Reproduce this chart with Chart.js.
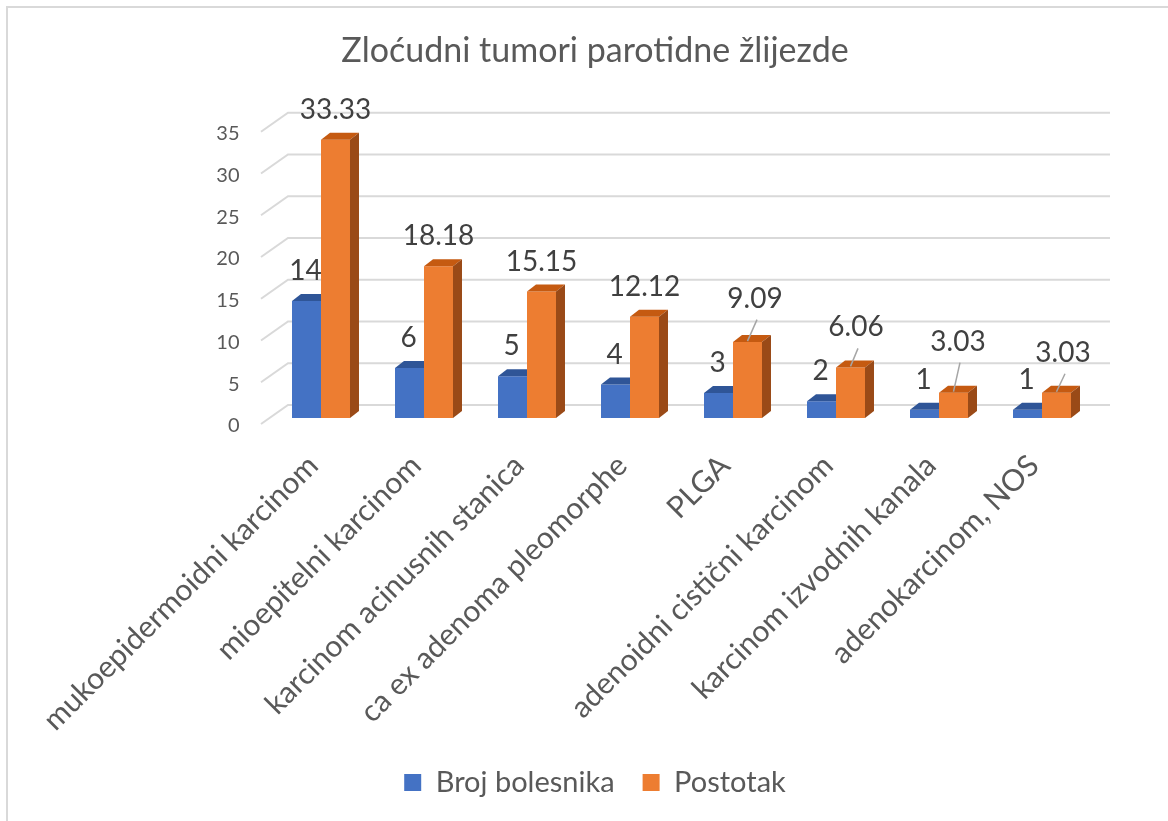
<!DOCTYPE html>
<html><head><meta charset="utf-8">
<script src="https://cdn.jsdelivr.net/npm/chart.js@4.4.1/dist/chart.umd.min.js"></script>
<style>html,body{margin:0;padding:0;background:#fff;overflow:hidden}</style>
</head><body>
<canvas id="c" width="1168" height="821"></canvas>
<script>
const categories = ["mukoepidermoidni karcinom","mioepitelni karcinom","karcinom acinusnih stanica","ca ex adenoma pleomorphe","PLGA","adenoidni cistični karcinom","karcinom izvodnih kanala","adenokarcinom, NOS"];
const brojBolesnika = [14,6,5,4,3,2,1,1];
const postotak = [33.33,18.18,15.15,12.12,9.09,6.06,3.03,3.03];
const yTickValues = [0,5,10,15,20,25,30,35];
const seriesNames = ["Broj bolesnika","Postotak"];
const titleText = "Zloćudni tumori parotidne žlijezde";

const FONT="Lato";
const TXT="#595959";
const front={left:-8.5, dy:6};
const back={left:18.5,right:16.5,dy:-13};
const depth={dx:9,dy:7};

const labelShift=[null,null,null,null,[7.5,-43.5],[5.5,-40],[4.5,-51],[6.5,-40]];

const grid3d={id:'grid3d',beforeDatasetsDraw(chart){
  const {ctx,chartArea:a,scales:{y}}=chart;
  ctx.save();ctx.strokeStyle="#d9d9d9";ctx.lineWidth=2;
  yTickValues.forEach(v=>{
    const p=y.getPixelForValue(v);
    ctx.beginPath();
    ctx.moveTo(a.left+front.left,p+front.dy);
    ctx.lineTo(a.left+back.left,p+back.dy);
    ctx.lineTo(a.right+back.right,p+back.dy);
    ctx.stroke();
  });
  ctx.restore();
}};
const bars3d={id:'bars3d',afterDatasetsDraw(chart){
  const {ctx}=chart;
  const m0=chart.getDatasetMeta(0).data, m1=chart.getDatasetMeta(1).data;
  ctx.save();
  m0.forEach((el,i)=>{
    const x0=el.x-el.width/2,x1=el.x+el.width/2,t=el.y;
    ctx.fillStyle="#2F5597";
    ctx.beginPath();ctx.moveTo(x0,t);ctx.lineTo(x0+depth.dx,t-depth.dy);ctx.lineTo(x1,t-depth.dy);ctx.lineTo(x1,t);ctx.closePath();ctx.fill();
  });
  m1.forEach((el,i)=>{
    const x0=el.x-el.width/2,x1=el.x+el.width/2,t=el.y,b=el.base;
    ctx.fillStyle="#C55A11";
    ctx.beginPath();ctx.moveTo(x0,t);ctx.lineTo(x0+depth.dx,t-depth.dy);ctx.lineTo(x1+depth.dx,t-depth.dy);ctx.lineTo(x1,t);ctx.closePath();ctx.fill();
    ctx.fillStyle="#9A4A17";
    ctx.beginPath();ctx.moveTo(x1,t);ctx.lineTo(x1+depth.dx,t-depth.dy);ctx.lineTo(x1+depth.dx,b-depth.dy);ctx.lineTo(x1,b);ctx.closePath();ctx.fill();
  });
  ctx.restore();
}};
const labels3d={id:'labels3d',afterDatasetsDraw(chart){
  const {ctx}=chart;
  ctx.save();
  ctx.font="28px "+FONT;ctx.fillStyle="#404040";ctx.textAlign="center";ctx.textBaseline="middle";
  chart.getDatasetMeta(0).data.forEach((el,i)=>{ctx.fillText(String(brojBolesnika[i]),el.x-1,el.y-30);});
  chart.getDatasetMeta(1).data.forEach((el,i)=>{
    const s=labelShift[i];
    if(s){
      const lx=el.x+s[0],ly=el.y+s[1];
      ctx.strokeStyle="#a6a6a6";ctx.lineWidth=1.5;
      ctx.beginPath();ctx.moveTo(lx+2,ly+21);ctx.lineTo(el.x,el.y-1);ctx.stroke();
      ctx.fillText(postotak[i].toFixed(2),lx,ly);
    } else ctx.fillText(postotak[i].toFixed(2),el.x,el.y-30);
  });
  ctx.restore();
}};
const frame={id:'frame',beforeDraw(chart){
  const {ctx}=chart;ctx.save();ctx.fillStyle="#fff";ctx.fillRect(0,0,chart.width,chart.height);
  ctx.strokeStyle="#d9d9d9";ctx.lineWidth=2;ctx.beginPath();ctx.moveTo(7,821);ctx.lineTo(7,7);ctx.lineTo(1168,7);ctx.stroke();ctx.restore();
}};

new Chart(document.getElementById('c'),{
  type:'bar',
  data:{labels:categories,datasets:[
    {label:seriesNames[0],data:brojBolesnika,backgroundColor:"#4472C4",borderWidth:0},
    {label:seriesNames[1],data:postotak,backgroundColor:"#ED7D31",borderWidth:0}
  ]},
  options:{
    responsive:false,animation:false,devicePixelRatio:1,
    layout:{padding:{left:22,right:0,top:0,bottom:14}},
    datasets:{bar:{categoryPercentage:0.563,barPercentage:1}},
    plugins:{
      title:{display:true,text:titleText,color:TXT,font:{family:FONT,size:34,weight:'normal'},padding:{top:31,bottom:54}},
      legend:{position:'bottom',labels:{color:TXT,font:{family:FONT,size:29},boxWidth:17,boxHeight:17,padding:28}},
      tooltip:{enabled:false}
    },
    scales:{
      x:{grid:{display:false},border:{display:false},ticks:{color:TXT,font:{family:FONT,size:30},minRotation:45,maxRotation:45,autoSkip:false,padding:22,labelOffset:-8},
         afterFit(s){s.height=322;}},
      y:{min:0,max:35,grid:{display:false,drawTicks:false},border:{display:false},
         ticks:{stepSize:5,color:TXT,font:{family:FONT,size:20},padding:30,labelOffset:8},
         afterFit(s){s.width=247.5;}},
      yR:{position:'right',display:true,grid:{display:false},border:{display:false},ticks:{display:false},afterFit(s){s.width=74.5;}}
    }
  },
  plugins:[frame,grid3d,bars3d,labels3d]
});
</script></body></html>
